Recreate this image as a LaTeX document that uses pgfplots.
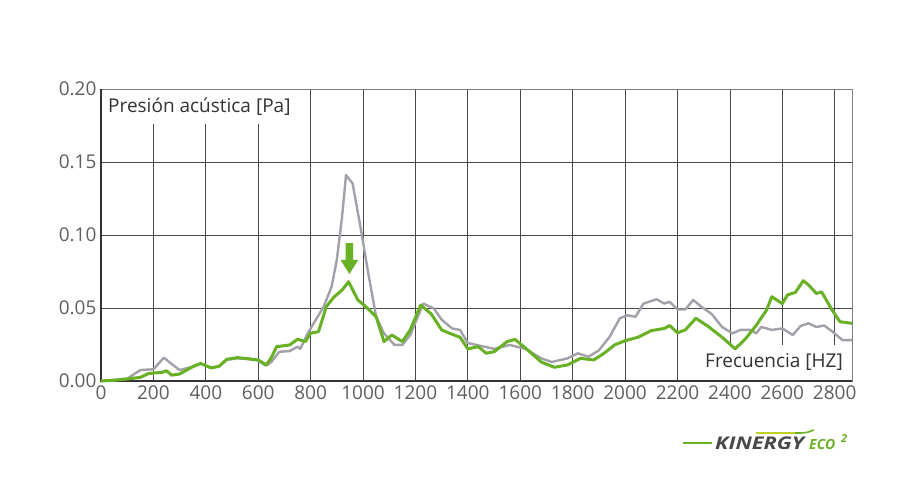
\documentclass[border=0pt]{standalone}
\usepackage{fontspec}
\setmainfont{Open Sans}
\usepackage{pgfplots}
\pgfplotsset{compat=1.18}
\usepackage{pgfplotstable}

\definecolor{kgreen}{RGB}{104,176,36}
\definecolor{kgray}{RGB}{162,160,168}
\definecolor{gridc}{RGB}{72,72,72}
\definecolor{txt}{RGB}{95,95,95}
\definecolor{logotxt}{RGB}{72,72,72}

% sin KINERGY (gris)
\pgfplotstableread{
f p
0 0
50 0.0008
100 0.0016
150 0.0075
200 0.008
240 0.016
270 0.0116
300 0.0075
350 0.0098
380 0.012
420 0.009
450 0.010
480 0.0145
520 0.0155
560 0.015
600 0.014
630 0.0105
650 0.013
680 0.020
720 0.0205
750 0.0235
760 0.022
790 0.033
820 0.042
850 0.051
880 0.0646
900 0.083
920 0.1125
935 0.141
960 0.1354
990 0.1057
1020 0.0738
1050 0.044
1080 0.0326
1120 0.0247
1150 0.0247
1180 0.0315
1230 0.053
1270 0.0497
1300 0.042
1340 0.036
1370 0.035
1400 0.026
1450 0.024
1500 0.022
1560 0.0247
1620 0.022
1680 0.0155
1720 0.013
1780 0.0155
1820 0.019
1860 0.0166
1900 0.021
1940 0.030
1980 0.043
2010 0.045
2040 0.044
2070 0.053
2120 0.056
2150 0.053
2170 0.0543
2200 0.049
2230 0.049
2260 0.0555
2290 0.051
2330 0.046
2370 0.037
2410 0.0326
2440 0.035
2480 0.035
2500 0.0326
2520 0.037
2560 0.035
2600 0.036
2620 0.0338
2640 0.0315
2670 0.0377
2700 0.0395
2730 0.037
2760 0.038
2790 0.034
2830 0.028
2866 0.028
}\grisdata

% con KINERGY (verde)
\pgfplotstableread{
f p
0 0
50 0.0005
100 0.0014
150 0.0025
180 0.005
200 0.0055
230 0.0058
250 0.007
270 0.004
300 0.0048
350 0.0098
380 0.012
420 0.009
450 0.010
480 0.0149
520 0.016
560 0.0153
600 0.0144
630 0.011
650 0.016
670 0.0235
720 0.0247
750 0.0286
780 0.027
800 0.0327
830 0.0338
860 0.051
890 0.0577
920 0.0623
945 0.068
980 0.0555
1010 0.051
1050 0.044
1080 0.027
1110 0.0315
1150 0.027
1180 0.035
1220 0.052
1260 0.046
1300 0.035
1330 0.0327
1370 0.030
1400 0.022
1440 0.0235
1470 0.019
1500 0.020
1550 0.027
1580 0.0285
1630 0.021
1680 0.013
1730 0.0094
1780 0.011
1830 0.0155
1880 0.0144
1920 0.019
1960 0.0247
2000 0.0276
2050 0.030
2100 0.0345
2150 0.036
2170 0.038
2200 0.033
2230 0.035
2270 0.043
2320 0.037
2370 0.030
2420 0.022
2460 0.029
2500 0.038
2540 0.0486
2560 0.0577
2600 0.053
2620 0.059
2650 0.0607
2680 0.0687
2700 0.0658
2730 0.060
2750 0.061
2790 0.0486
2820 0.0406
2866 0.0395
}\verdedata

\begin{document}
\begin{tikzpicture}[x=1pt,y=1pt]
\useasboundingbox (0,0) rectangle (920,480);
\begin{axis}[
  at={(101pt,99pt)}, anchor=south west,
  scale only axis, width=751pt, height=292pt,
  xmin=0, xmax=2866, ymin=0, ymax=0.2,
  xtick={0,200,...,2800},
  ytick={0,0.05,0.1,0.15,0.2},
  major tick length=0pt,
  xmajorgrids, ymajorgrids,
  major grid style={gridc, line width=0.8pt},
  axis line style={gridc!70, line width=0.8pt},
  ticklabel style={font=\fontsize{19}{21}\selectfont, text=txt},
  /pgf/number format/assume math mode=true,
  /pgf/number format/set thousands separator={},
  yticklabel style={/pgf/number format/fixed, /pgf/number format/fixed zerofill, /pgf/number format/precision=2, xshift=-1pt},
  xticklabel style={yshift=-1pt},
  scaled y ticks=false,
  clip=false,
]
% etiquetas con fondo blanco
\node[fill=white, anchor=north west, inner xsep=6pt, inner ysep=0pt, minimum height=34pt,
  text=black!80, font=\fontsize{19}{22}\selectfont]
  at ([xshift=1pt,yshift=-1pt]rel axis cs:0,1) {Presión acústica [Pa]};
\node[fill=white, anchor=south east, inner xsep=8pt, inner ysep=0pt, minimum height=35pt,
  text=black!80, font=\fontsize{19}{22}\selectfont]
  at ([xshift=-1pt,yshift=1pt]rel axis cs:1,0) {Frecuencia [HZ]};
% ejes izquierdo e inferior
\draw[black!80, line width=2pt] (rel axis cs:0,1) -- (rel axis cs:0,0) -- (rel axis cs:1,0);

\addplot[kgray, line width=2.4pt, line join=round] table[x=f, y=p] {\grisdata};
\addplot[kgreen, line width=3pt, line join=round] table[x=f, y=p] {\verdedata};

% flecha
\fill[kgreen] (axis cs:934,0.0945) -- (axis cs:962,0.0945) -- (axis cs:962,0.0830)
  -- (axis cs:982,0.0830) -- (axis cs:948,0.0733) -- (axis cs:914,0.0830)
  -- (axis cs:934,0.0830) -- cycle;
\end{axis}

% logo
\draw[kgreen, line width=2.5pt] (683,37) -- (712,37);
\node[anchor=base west, inner sep=0pt, text=logotxt, font=\fontsize{17.5}{18}\selectfont\bfseries\itshape]
  at (715,31) {\scalebox{1.24}[1]{KINERGY}};
\node[anchor=base west, inner sep=0pt, text=kgreen, font=\fontsize{14}{14}\selectfont\bfseries\itshape]
  at (809,31) {ECO};
\node[anchor=base west, inner sep=0pt, text=kgreen, font=\fontsize{11}{11}\selectfont\bfseries\itshape]
  at (841,38) {2};
\draw[line width=1.6pt, yellow!80!green!90!black] (756,47) -- (795,47);
\draw[line width=1.6pt, kgreen] (795,47) .. controls (806,47) .. (814,50);
\end{tikzpicture}
\end{document}
